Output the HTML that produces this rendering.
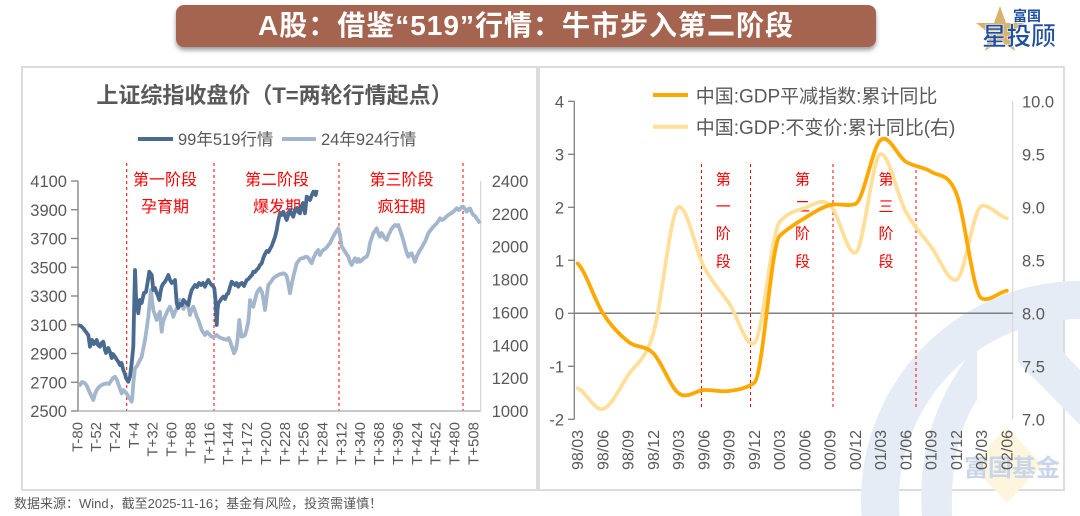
<!DOCTYPE html>
<html><head><meta charset="utf-8">
<style>
html,body{margin:0;padding:0;background:#fff;width:1080px;height:516px;overflow:hidden;}
body{position:relative;font-family:"Liberation Sans","Noto Sans CJK SC",sans-serif;}
#bar{position:absolute;left:176px;top:5px;width:700px;height:42px;background:#A5644F;border-radius:8px;box-shadow:0 3px 5px rgba(0,0,0,0.4);color:#fff;font-weight:bold;font-size:28px;line-height:42px;text-align:center;letter-spacing:1px;white-space:nowrap;}
svg{position:absolute;left:0;top:0;display:block;overflow:hidden;}
</style></head>
<body>
<svg width="1080" height="516" viewBox="0 0 1080 516" font-family="'Liberation Sans','Noto Sans CJK SC',sans-serif">
<!-- panels -->
<rect x="22" y="67" width="515" height="423" fill="#fff" stroke="#dcdcdc" stroke-width="2"/>
<rect x="539" y="67" width="525" height="423" fill="#fff" stroke="#dcdcdc" stroke-width="2"/>

<!-- watermark -->
<g>
<path d="M861.6,516 A219,219 0 0 1 1080,281 L1080,319 A181,181 0 0 0 899.7,516 Z" fill="#e6ecf6"/>
<path d="M977,345 L977,400 Q950,440 952,516 L922,516 Q915,420 977,345 Z" fill="#e6ecf6"/>
<path d="M1018,313 L1063,313 L1063,352 L1080,370 L1080,425 L1018,362 Z" fill="#e6ecf6"/>
<polygon points="1007,427 1042,465 1007,503 972,465" fill="#fdf5dc"/>
<text x="1012" y="476" font-size="24" font-weight="bold" fill="#c9d6ea" text-anchor="middle">富国基金</text>
</g>

<!-- logo -->
<polygon points="1000,6 1006,23 1024,23 1010,34 1015,51 1000,41 985,51 990,34 976,23 994,23" fill="#D9B36C"/>
<text x="1013" y="21" font-size="14" font-weight="bold" fill="#1F4F9F">富国</text>
<text x="982" y="45" font-size="25" font-weight="bold" fill="#1F4F9F" stroke="#fff" stroke-width="0.6" letter-spacing="-0.5">星投顾</text>

<!-- ===== LEFT CHART ===== -->
<text x="274.5" y="103" font-size="22" font-weight="bold" fill="#595959" text-anchor="middle">上证综指收盘价（T=两轮行情起点）</text>
<line x1="138" y1="139" x2="173" y2="139" stroke="#4A6A8F" stroke-width="4"/>
<text x="178" y="145" font-size="16.5" fill="#595959">99年519行情</text>
<line x1="282" y1="139" x2="316" y2="139" stroke="#A3B6CC" stroke-width="4"/>
<text x="321" y="145" font-size="16.5" fill="#595959">24年924行情</text>

<g stroke="#ff0000" stroke-width="1" stroke-dasharray="3,3">
<line x1="126.7" y1="163" x2="126.7" y2="411"/>
<line x1="214" y1="163" x2="214" y2="411"/>
<line x1="339" y1="163" x2="339" y2="411"/>
<line x1="463" y1="163" x2="463" y2="411"/>
</g>
<g font-size="16" fill="#ff0000" text-anchor="middle">
<text x="165" y="185">第一阶段</text><text x="165" y="212">孕育期</text>
<text x="277" y="185">第二阶段</text><text x="277" y="212">爆发期</text>
<text x="401.5" y="185">第三阶段</text><text x="401.5" y="212">疯狂期</text>
</g>

<!-- axes -->
<line x1="78" y1="181" x2="78" y2="411" stroke="#808080" stroke-width="1.3"/>
<line x1="78" y1="411" x2="480.7" y2="411" stroke="#a6a6a6" stroke-width="1.3"/>
<line x1="480.7" y1="181" x2="480.7" y2="411" stroke="#d9d9d9" stroke-width="1.3"/>
<g stroke="#808080" stroke-width="1.3">
<line x1="71" y1="181" x2="78" y2="181"/><line x1="71" y1="209.75" x2="78" y2="209.75"/>
<line x1="71" y1="238.5" x2="78" y2="238.5"/><line x1="71" y1="267.25" x2="78" y2="267.25"/>
<line x1="71" y1="296" x2="78" y2="296"/><line x1="71" y1="324.75" x2="78" y2="324.75"/>
<line x1="71" y1="353.5" x2="78" y2="353.5"/><line x1="71" y1="382.25" x2="78" y2="382.25"/>
<line x1="71" y1="411" x2="78" y2="411"/>
</g>
<g font-size="16.5" fill="#595959" text-anchor="end">
<text x="67" y="187">4100</text><text x="67" y="215.75">3900</text><text x="67" y="244.5">3700</text>
<text x="67" y="273.25">3500</text><text x="67" y="302">3300</text><text x="67" y="330.75">3100</text>
<text x="67" y="359.5">2900</text><text x="67" y="388.25">2700</text><text x="67" y="417">2500</text>
</g>
<g font-size="16.5" fill="#595959">
<text x="491.7" y="187">2400</text><text x="491.7" y="219.9">2200</text><text x="491.7" y="252.7">2000</text>
<text x="491.7" y="285.6">1800</text><text x="491.7" y="318.4">1600</text><text x="491.7" y="351.3">1400</text>
<text x="491.7" y="384.1">1200</text><text x="491.7" y="417">1000</text>
</g>
<g font-size="15" fill="#595959" text-anchor="end">
<text transform="translate(77.3,422) rotate(-90)" dy="5">T-80</text>
<text transform="translate(96.2,422) rotate(-90)" dy="5">T-52</text>
<text transform="translate(115,422) rotate(-90)" dy="5">T-24</text>
<text transform="translate(133.9,422) rotate(-90)" dy="5">T+4</text>
<text transform="translate(152.7,422) rotate(-90)" dy="5">T+32</text>
<text transform="translate(171.6,422) rotate(-90)" dy="5">T+60</text>
<text transform="translate(190.5,422) rotate(-90)" dy="5">T+88</text>
<text transform="translate(209.3,422) rotate(-90)" dy="5">T+116</text>
<text transform="translate(228.2,422) rotate(-90)" dy="5">T+144</text>
<text transform="translate(247,422) rotate(-90)" dy="5">T+172</text>
<text transform="translate(265.9,422) rotate(-90)" dy="5">T+200</text>
<text transform="translate(284.8,422) rotate(-90)" dy="5">T+228</text>
<text transform="translate(303.6,422) rotate(-90)" dy="5">T+256</text>
<text transform="translate(322.5,422) rotate(-90)" dy="5">T+284</text>
<text transform="translate(341.3,422) rotate(-90)" dy="5">T+312</text>
<text transform="translate(360.2,422) rotate(-90)" dy="5">T+340</text>
<text transform="translate(379.1,422) rotate(-90)" dy="5">T+368</text>
<text transform="translate(397.9,422) rotate(-90)" dy="5">T+396</text>
<text transform="translate(416.8,422) rotate(-90)" dy="5">T+424</text>
<text transform="translate(435.6,422) rotate(-90)" dy="5">T+452</text>
<text transform="translate(454.5,422) rotate(-90)" dy="5">T+480</text>
<text transform="translate(473.3,422) rotate(-90)" dy="5">T+508</text>
</g>

<!-- light series -->
<polyline fill="none" stroke="#A3B6CC" stroke-width="3.8" stroke-linejoin="round" points="78.3,383.3 80,385 82,382 85,383.3 87,386 89,391 91.7,396.7 93.3,400 95,394 96.7,390 99,387 101.7,385 104,384 106.7,383.3 109,384 111,381 113,378 115,376.7 117,380 119,386 121.7,393.3 123.5,390 125,391.7 127,394 128.3,396.7 130,399 131.7,401.7 132.5,395 133.3,383.3 135,368.3 137,366 138.3,363.3 140,360 141.7,356.7 143,350 145,340 146.5,330 148.3,316.7 150,300 151,290 152,300 153.3,310 155,315 156.7,320 158,316 160,311.7 161,325 161.7,331.7 163,322 165,316.7 167,312 168.5,309 170,306.7 172,312 173.3,316.7 175,312 177,308 178.5,304 180,300 182,305 183.5,309 185,305 186.7,303.3 188.5,308 190,315 191.5,310 193.3,306.7 195,311 196.5,316 198.3,320 200,325 201.7,330 203.5,333 205,335 207,332 209,334 211.7,336.7 213.5,337 216.7,335 219,337 221.7,338.3 224,339 226.7,340 228.5,338 230,341 232,347 234,353.3 236,349 237.5,340 239.3,320 240.5,330 241.7,336.7 243.5,336 245,335 246.5,330 248.3,321.7 249.3,310 250,300 251.5,304 253.3,306.7 255,300 256.7,293.3 258.5,290 260,288.3 262,292 263.5,300 265,310 266.5,298 268.3,285 270,283 271.5,281 273.3,278.3 275,277 276.5,276 278.3,275 280,274 281.5,274 283.3,273.3 285,274 286.7,276 288.5,285 290,293.3 291.5,285 293.3,276.7 295,270 296.7,263.3 298.5,261 300,259 301.7,258.3 303.5,258 305,257 306.7,256.7 308.5,258 310,261 311.7,263.3 313.5,258 315,255 316.5,252 318.3,250 320,255 321.5,252 323.3,250 325,249 327,247 328.5,245 330,243.3 331.5,240 333,237 335,233.3 336.5,231 338.3,228.3 340,235 341.7,246.7 343.5,249 345,251.7 346.5,254 348.3,256.7 350,262 351.7,265 353.5,261 355,258.3 357,262 358.5,259 360,261.7 362,260 364,258 366.7,256.7 368.5,252 370,243 373.3,233.3 375,231 376.7,228.3 378.5,234 380,236.7 381.5,233 383,235 384.5,238 386.7,240 388.5,235 390,232 391.5,229 393.3,226.7 395,225 396.5,226 398.3,225 400,230 401.7,235 403.5,241 405,246.7 406.5,252 408.3,256.7 410,254 411.7,253.3 413.5,258 415,261.7 416.5,257 418.3,253.3 420,250 421.5,248 423,245 425,241.7 426.5,238 428.3,233.3 430,231 431.5,229 433.3,226.7 435,225 436.7,223.3 438.5,221 440,218.3 442,220 444,219 446,217 448.3,215 450,214 451.5,213 453.3,211.7 455,210 456.7,208.3 458.5,210 460,209 461.5,207 463.3,206.7 465,209 466.7,211.7 468.5,209 470,208.3 471.5,212 473.3,215 475,216 477,219 478.5,221 480,223.3"/>
<!-- dark series -->
<polyline fill="none" stroke="#4A6A8F" stroke-width="3.8" stroke-linejoin="round" points="78.3,325 81,326 83.3,328.3 86,332 88.3,335 90,346.7 92,340 94,344 96.7,340 98,345 100,346.7 101.5,343 103.3,341.7 105,350 106,353 108.3,348 110,352 111.7,358 113,354 115,356.7 117,360 118.3,361.7 120,365 121.5,363 123.3,370 125,374 126,378 128.3,381.7 130,376.7 131.7,363 133.3,346.7 134.3,300 135,270 136,296.7 137,305 138.3,313.3 140,300 141.7,303 143,297 144,293 146,292 148,280 149.3,271.7 151.7,275 153.3,290 155,288 156.7,293 158,296 159.3,300 160.5,292 161.7,286.7 163,284 165,281.7 166.5,279 168.3,275 170,280 171.7,283 173.3,282 175,280 176.7,303 178.3,308 180,304 182,305 183.5,300 185,301.7 186.5,303 188.3,305 190,296 191.7,290 193,288 195,285 197,287 199,283 201,285 203,283 205,286.7 206.5,283 208.3,280 210,283 211.7,285 213,286 214.3,288.3 215.5,300 216.7,325 217.5,310 218.3,303.3 220,301 222,298 223.3,296.7 225,299 227,294 228.3,293.3 230,287 231.7,281.7 233,283 235,285 236.5,283 238.3,286.7 240,284 242,283 244,286 246.7,280 248.5,279 250,277 252,275 253.3,271.7 255,272 256.5,270 258.3,268.3 260,265 261.7,263.3 263.3,258 265,254 266.7,251 268.5,252 270,249 271.7,246 273.3,241.7 275,237 276.7,230 278,222 280,213.3 281.5,215 283.3,211.7 285,216 286.7,220 288.5,214 290,210 291.5,214 293.3,216.7 295,210 297,208 298.5,212 300,213.3 301.5,206 303,203 305,213.3 306.7,196.7 308.5,198 310,200 311.5,196 313.3,191.7 315,194 315.7,195 316.7,190"/>

<!-- ===== RIGHT CHART ===== -->
<line x1="653" y1="95" x2="688" y2="95" stroke="#FFA800" stroke-width="4"/>
<text x="695.7" y="102.5" font-size="19" fill="#595959">中国:GDP平减指数:累计同比</text>
<line x1="653" y1="126.7" x2="688" y2="126.7" stroke="#FFDF99" stroke-width="4"/>
<text x="695.7" y="134" font-size="19" fill="#595959">中国:GDP:不变价:累计同比(右)</text>

<line x1="574.3" y1="101.3" x2="574.3" y2="419.3" stroke="#808080" stroke-width="1.3"/>
<line x1="1012.7" y1="101.3" x2="1012.7" y2="419.3" stroke="#d9d9d9" stroke-width="1.3"/>
<g stroke="#808080" stroke-width="1.3">
<line x1="568" y1="101.3" x2="574.3" y2="101.3"/><line x1="568" y1="154.3" x2="574.3" y2="154.3"/>
<line x1="568" y1="207.3" x2="574.3" y2="207.3"/><line x1="568" y1="260.3" x2="574.3" y2="260.3"/>
<line x1="568" y1="313.3" x2="574.3" y2="313.3"/><line x1="568" y1="366.3" x2="574.3" y2="366.3"/>
<line x1="568" y1="419.3" x2="574.3" y2="419.3"/>
</g>
<g font-size="16.5" fill="#595959" text-anchor="end">
<text x="564" y="107.3">4</text><text x="564" y="160.3">3</text><text x="564" y="213.3">2</text>
<text x="564" y="266.3">1</text><text x="564" y="319.3">0</text><text x="564" y="372.3">-1</text>
<text x="564" y="425.3">-2</text>
</g>
<g font-size="16.5" fill="#595959">
<text x="1022" y="107.3">10.0</text><text x="1022" y="160.3">9.5</text><text x="1022" y="213.3">9.0</text>
<text x="1022" y="266.3">8.5</text><text x="1022" y="319.3">8.0</text><text x="1022" y="372.3">7.5</text>
<text x="1022" y="425.3">7.0</text>
</g>
<g font-size="16" fill="#595959" text-anchor="end">
<text transform="translate(577.7,430) rotate(-90)" dy="5.5">98/03</text>
<text transform="translate(602.9,430) rotate(-90)" dy="5.5">98/06</text>
<text transform="translate(628.2,430) rotate(-90)" dy="5.5">98/09</text>
<text transform="translate(653.4,430) rotate(-90)" dy="5.5">98/12</text>
<text transform="translate(678.7,430) rotate(-90)" dy="5.5">99/03</text>
<text transform="translate(703.9,430) rotate(-90)" dy="5.5">99/06</text>
<text transform="translate(729.1,430) rotate(-90)" dy="5.5">99/09</text>
<text transform="translate(754.4,430) rotate(-90)" dy="5.5">99/12</text>
<text transform="translate(779.6,430) rotate(-90)" dy="5.5">00/03</text>
<text transform="translate(804.9,430) rotate(-90)" dy="5.5">00/06</text>
<text transform="translate(830.1,430) rotate(-90)" dy="5.5">00/09</text>
<text transform="translate(855.3,430) rotate(-90)" dy="5.5">00/12</text>
<text transform="translate(880.6,430) rotate(-90)" dy="5.5">01/03</text>
<text transform="translate(905.8,430) rotate(-90)" dy="5.5">01/06</text>
<text transform="translate(931.1,430) rotate(-90)" dy="5.5">01/09</text>
<text transform="translate(956.3,430) rotate(-90)" dy="5.5">01/12</text>
<text transform="translate(981.5,430) rotate(-90)" dy="5.5">02/03</text>
<text transform="translate(1006.8,430) rotate(-90)" dy="5.5">02/06</text>
</g>

<g stroke="#ff0000" stroke-width="1" stroke-dasharray="3,3">
<line x1="701.5" y1="164" x2="701.5" y2="409"/>
<line x1="750.5" y1="164" x2="750.5" y2="409"/>
<line x1="833" y1="164" x2="833" y2="409"/>
<line x1="916" y1="164" x2="916" y2="409"/>
</g>
<g font-size="15" fill="#ff0000" text-anchor="middle">
<text x="723.3" y="184.5">第</text><text x="723.3" y="211.5">一</text><text x="723.3" y="238.5">阶</text><text x="723.3" y="266.5">段</text>
<text x="802.5" y="184.5">第</text><text x="802.5" y="211.5">二</text><text x="802.5" y="238.5">阶</text><text x="802.5" y="266.5">段</text>
<text x="886" y="184.5">第</text><text x="886" y="211.5">三</text><text x="886" y="238.5">阶</text><text x="886" y="266.5">段</text>
</g>

<line x1="574.3" y1="313.3" x2="1012.7" y2="313.3" stroke="#808080" stroke-width="1.5"/>

<path fill="none" stroke="#FFDF99" stroke-width="3.8" stroke-linecap="round" d="M577.7,388.3 C586.1,391.75 594.5,411.2 602.9,409 C611.3,406.8 619.8,387.6 628.2,375 C636.6,362.4 645.0,361.3 653.4,333.3 C661.8,305.3 670.3,209 678.7,207 C687.1,205 695.5,250.65 703.9,266.7 C712.3,282.75 720.7,291.1 729.1,303.3 C737.5,315.5 746.0,349 754.4,343 C762.8,337 771.2,232 779.6,222 C788.0,212 796.5,210.8 804.9,208 C813.3,205.2 821.7,197.5 830.1,205 C838.5,212.45 846.9,254.7 855.3,252.7 C863.7,250.7 872.2,155 880.6,154 C889.0,153 897.4,196.25 905.8,211.7 C914.2,227.15 922.7,235.3 931.1,246.7 C939.5,258.1 947.9,282 956.3,280 C964.7,278 973.1,208 981.5,206 C989.9,204 998.4,216.25 1006.8,218.3"/>
<path fill="none" stroke="#FFA800" stroke-width="3.8" stroke-linecap="round" d="M577.7,263.5 C586.1,271.8 594.5,300.3 602.9,313.3 C611.3,326.3 619.8,335.0 628.2,341.7 C636.6,348.4 645.0,344.7 653.4,353.3 C661.8,361.9 670.3,387.2 678.7,393.3 C687.1,399.4 695.5,390.4 703.9,390 C712.3,389.6 720.7,392.2 729.1,391 C737.5,389.8 746.0,388.7 754.4,382.7 C762.8,376.7 771.2,244 779.6,236 C788.0,228 796.5,223.2 804.9,218 C813.3,212.8 821.7,207.3 830.1,205 C838.5,202.7 846.9,207 855.3,204 C863.7,201 872.2,147.1 880.6,140 C889.0,133 897.4,156.4 905.8,161.7 C914.2,167 922.7,166.4 931.1,171.7 C939.5,177 947.9,172.2 956.3,193.3 C964.7,214.4 973.1,294.3 981.5,298.3 C989.9,302.3 998.4,292 1006.8,290.7"/>

<!-- footer -->
<text x="14" y="508" font-size="13" fill="#595959">数据来源：Wind，截至2025-11-16；基金有风险，投资需谨慎！</text>
</svg>
<div id="bar">A股：借鉴“519”行情：牛市步入第二阶段</div>
</body></html>
